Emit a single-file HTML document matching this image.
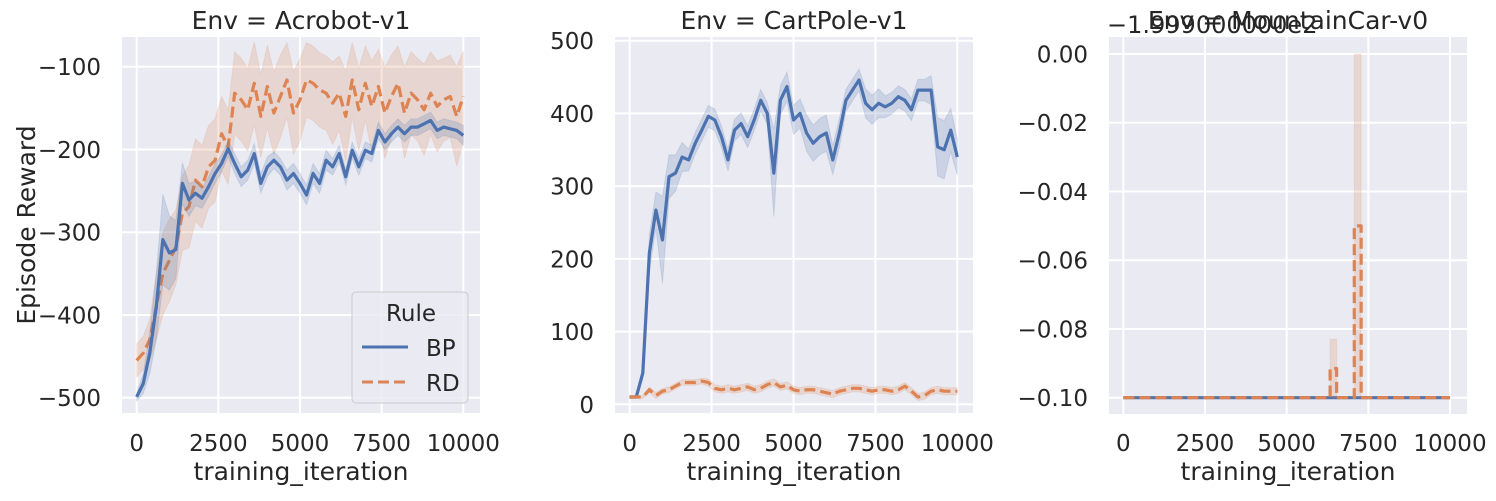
<!DOCTYPE html>
<html><head><meta charset="utf-8">
<style>
body{margin:0;background:#fff;}
svg text{font-family:"DejaVu Sans","Liberation Sans",sans-serif;fill:#262626;}
</style></head>
<body>
<svg id="chart" width="1496" height="496" xmlns="http://www.w3.org/2000/svg"></svg>
<script>
const xTicks=[0,2500,5000,7500,10000];
const xTickLabels=["0","2500","5000","7500","10000"];
const iters=[0,200,400,600,800,1000,1200,1400,1600,1800,2000,2200,2400,2600,2800,3000,3200,3400,3600,3800,4000,4200,4400,4600,4800,5000,5200,5400,5600,5800,6000,6200,6400,6600,6800,7000,7200,7400,7600,7800,8000,8200,8400,8600,8800,9000,9200,9400,9600,9800,10000];
const acroBP=[-499,-483,-446,-390,-309,-325,-321,-241,-261,-253,-259,-245,-229,-217,-199,-217,-233,-225,-205,-241,-221,-213,-221,-237,-229,-241,-255,-229,-241,-213,-221,-205,-233,-201,-221,-201,-205,-177,-191,-181,-173,-181,-173,-173,-169,-165,-177,-173,-175,-177,-183];
const acroBPSpread=[5,12,25,40,55,45,35,25,20,15,12,12,12,10,10,12,12,12,12,12,12,10,10,12,12,12,12,12,12,12,10,10,10,10,10,10,10,10,10,10,10,10,10,10,10,10,10,10,10,10,12];
const acroRD=[-455,-446,-430,-390,-350,-334,-318,-277,-269,-237,-245,-221,-213,-181,-197,-132,-140,-152,-120,-160,-124,-156,-136,-116,-156,-140,-116,-120,-128,-132,-144,-132,-160,-116,-152,-120,-148,-124,-156,-136,-120,-156,-132,-140,-152,-132,-148,-140,-136,-160,-136];
const acroRDSpread=[20,20,25,40,50,50,45,45,50,50,50,50,50,45,45,50,50,50,50,50,50,50,50,45,50,50,45,45,45,45,50,45,55,45,50,45,55,45,55,50,45,55,50,50,55,50,55,50,50,60,55];
const cartBP=[10,10,43,208,267,226,313,318,340,336,359,377,396,391,368,336,377,386,368,391,418,400,318,418,437,391,400,373,359,368,373,336,373,418,432,446,414,405,414,409,414,423,418,405,432,432,432,354,350,377,340];
const cartBPSpread=[2,2,8,25,25,60,30,25,20,15,15,15,15,15,15,15,15,15,15,15,15,15,60,20,20,20,20,25,25,25,25,20,20,15,15,15,20,20,20,15,15,15,15,15,15,15,20,40,40,30,25];
const cartRD=[10,10,10,20,12,18,20,25,30,30,30,32,30,22,20,22,20,22,24,20,22,27,30,24,26,20,18,20,20,18,16,14,18,20,22,22,20,18,20,20,18,20,25,18,10,12,18,20,18,18,18];
const cartRDSpread=[1,1,2,4,4,4,4,4,4,4,4,4,5,5,5,5,5,5,5,5,5,5,5,5,5,5,5,5,5,5,5,5,5,5,5,5,5,5,5,5,5,5,5,5,5,5,5,5,5,5,5];
const mcX=[0,6330,6330,6530,6530,7070,7070,7280,7280,10000];
const mcBP=[-0.1,-0.1,-0.1,-0.1,-0.1,-0.1,-0.1,-0.1,-0.1,-0.1];
const mcRD=[-0.1,-0.1,-0.0915,-0.0915,-0.1,-0.1,-0.05,-0.05,-0.1,-0.1];
const mcRDHi=[-0.1,-0.1,-0.083,-0.083,-0.1,-0.1,0,0,-0.1,-0.1];
const mcRDLo=[-0.1,-0.1,-0.1,-0.1,-0.1,-0.1,-0.1,-0.1,-0.1,-0.1];

const NS="http://www.w3.org/2000/svg";
const svg=document.getElementById('chart');
function mk(tag,attrs,parent){const e=document.createElementNS(NS,tag);for(const k in attrs)e.setAttribute(k,attrs[k]);(parent||svg).appendChild(e);return e;}
function lin(d0,d1,r0,r1){return v=>r0+(v-d0)*(r1-r0)/(d1-d0);}
const BLUE="#4c72b0",ORANGE="#dd8452";
const TICK=23, LAB=25;

function panel(cfg){
  const g=mk('g',{});
  
  
  const bg=mk('rect',{x:cfg.left,y:cfg.top,width:cfg.right-cfg.left,height:cfg.bottom-cfg.top,fill:'#eaeaf2'},g);
  
  
  const xs=lin(0,10000,cfg.x0,cfg.x1), ys=lin(cfg.yt[0],cfg.yt[1],cfg.y0,cfg.y1);
  xTicks.forEach((t,i)=>{
    const X=xs(t);
    mk('line',{x1:X,x2:X,y1:cfg.top,y2:cfg.bottom,stroke:'#fff','stroke-width':2},g);
    const tx=mk('text',{x:X,y:451,'font-size':TICK,'text-anchor':'middle'},g);
    tx.textContent=xTickLabels[i];
    
    
  });
  cfg.yTicks.forEach((t,i)=>{
    const Y=ys(t);
    mk('line',{x1:cfg.left,x2:cfg.right,y1:Y,y2:Y,stroke:'#fff','stroke-width':2},g);
    const tx=mk('text',{x:cfg.left-21,y:Y+8.5,'font-size':TICK,'text-anchor':'end'},g);
    tx.textContent=cfg.yTickLabels[i];
    
    
  });
  cfg.series.forEach(s=>{
    const X=s.x;
    let up=[],dn=[];
    for(let i=0;i<X.length;i++){up.push(xs(X[i])+','+ys(s.hi[i]));dn.unshift(xs(X[i])+','+ys(s.lo[i]));}
    const band=mk('polygon',{points:up.concat(dn).join(' '),fill:s.color,'fill-opacity':0.2,stroke:s.color,'stroke-opacity':0.15},g);
    
    
    const pts=X.map((x,i)=>xs(x)+','+ys(s.y[i])).join(' ');
    const line=mk('polyline',{points:pts,fill:'none',stroke:s.color,'stroke-width':3.2,'stroke-linejoin':'round'},g);
    if(s.dash) line.setAttribute('stroke-dasharray','11,5');
    
    
  });
  const ti=mk('text',{x:(cfg.left+cfg.right)/2,y:29,'font-size':LAB,'text-anchor':'middle'},g);
  ti.textContent=cfg.title;
  
  
  const xl=mk('text',{x:(cfg.left+cfg.right)/2,y:480,'font-size':LAB,'text-anchor':'middle'},g);
  xl.textContent='training_iteration';
  
  
}
function withSpread(y,s,sign){return y.map((v,i)=>v+sign*s[i]);}

panel({name:'acrobot-panel',title:'Env = Acrobot-v1',left:122,right:480,top:37,bottom:413,x0:136.7,x1:463.3,yt:[-100,-500],y0:66.7,y1:397.7,
  yTicks:[-100,-200,-300,-400,-500],yTickLabels:['−100','−200','−300','−400','−500'],
  series:[
   {name:'acrobot-rd',x:iters,y:acroRD,lo:withSpread(acroRD,acroRDSpread,-1),hi:withSpread(acroRD,acroRDSpread,1),color:ORANGE,dash:true},
   {name:'acrobot-bp',x:iters,y:acroBP,lo:withSpread(acroBP,acroBPSpread,-1),hi:withSpread(acroBP,acroBPSpread,1),color:BLUE}]});
panel({name:'cartpole-panel',title:'Env = CartPole-v1',left:615,right:973,top:37,bottom:413,x0:629.7,x1:957.3,yt:[500,0],y0:40.7,y1:404.3,
  yTicks:[0,100,200,300,400,500],yTickLabels:['0','100','200','300','400','500'],
  series:[
   {name:'cartpole-bp',x:iters,y:cartBP,lo:withSpread(cartBP,cartBPSpread,-1),hi:withSpread(cartBP,cartBPSpread,1),color:BLUE},
   {name:'cartpole-rd',x:iters,y:cartRD,lo:withSpread(cartRD,cartRDSpread,-1),hi:withSpread(cartRD,cartRDSpread,1),color:ORANGE,dash:true}]});
panel({name:'mountaincar-panel',title:'Env = MountainCar-v0',left:1109,right:1467,top:37,bottom:414,x0:1123.3,x1:1450,yt:[0,-0.1],y0:54,y1:397.7,
  yTicks:[0,-0.02,-0.04,-0.06,-0.08,-0.1],yTickLabels:['0.00','−0.02','−0.04','−0.06','−0.08','−0.10'],
  series:[
   {name:'mountaincar-bp',x:mcX,y:mcBP,lo:mcBP,hi:mcBP,color:BLUE},
   {name:'mountaincar-rd',x:mcX,y:mcRD,lo:mcRDLo,hi:mcRDHi,color:ORANGE,dash:true}]});

const off=mk('text',{x:1107,y:33,'font-size':TICK+1});
off.textContent='−1.999000000e2';



const yl=mk('text',{x:0,y:0,'font-size':LAB,'text-anchor':'middle',transform:'translate(35,225) rotate(-90)'});
yl.textContent='Episode Reward';



const lg=mk('g',{});


mk('rect',{x:352,y:292,width:116,height:111,rx:4,fill:'#eaeaf2','fill-opacity':0.8,stroke:'#cccccc'},lg);
const lt=mk('text',{x:411,y:321,'font-size':TICK,'text-anchor':'middle'},lg);
lt.textContent='Rule';


const l1=mk('line',{x1:362,x2:408,y1:347,y2:347,stroke:BLUE,'stroke-width':3},lg);


const t1=mk('text',{x:426,y:356,'font-size':TICK},lg);
t1.textContent='BP';


const l2=mk('line',{x1:362,x2:408,y1:382,y2:382,stroke:ORANGE,'stroke-width':3,'stroke-dasharray':'11,5'},lg);


const t2=mk('text',{x:426,y:391,'font-size':TICK},lg);
t2.textContent='RD';


</script>
</body></html>
